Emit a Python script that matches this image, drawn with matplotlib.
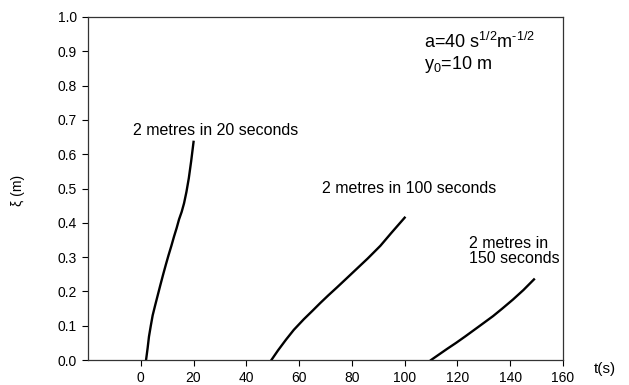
import matplotlib
matplotlib.use("Agg")
import matplotlib.pyplot as plt
import numpy as np

plt.rcParams['font.family'] = ['Liberation Sans', 'DejaVu Sans']
plt.rcParams['mathtext.fontset'] = 'custom'
plt.rcParams['mathtext.rm'] = 'Liberation Sans'
plt.rcParams['mathtext.it'] = 'Liberation Sans'

# Curve data (t in s, xi in m)
t1 = [2.0, 2.6, 3.1, 3.8, 4.5, 5.4, 6.3, 7.4, 8.5, 9.5, 10.5, 11.6, 12.6, 13.6, 14.5, 15.5, 16.4, 17.3, 18.2, 19.1, 20.0]
y1 = [0.0, 0.035, 0.068, 0.10, 0.13, 0.158, 0.185, 0.218, 0.25, 0.278, 0.305, 0.333, 0.36, 0.385, 0.41, 0.432, 0.457, 0.49, 0.53, 0.58, 0.636]
t2 = [49.5, 52.0, 55.0, 58.0, 61.8, 65.0, 68.0, 71.0, 74.4, 78.0, 82.0, 86.0, 90.8, 95.0, 100.0]
y2 = [0.0, 0.028, 0.059, 0.088, 0.119, 0.143, 0.166, 0.188, 0.212, 0.238, 0.267, 0.296, 0.333, 0.371, 0.415]
t3 = [110.0, 113.0, 116.0, 119.5, 123.0, 128.0, 133.5, 137.0, 141.0, 145.0, 149.0]
y3 = [0.0, 0.016, 0.032, 0.050, 0.069, 0.097, 0.128, 0.150, 0.176, 0.204, 0.235]

xticks = [0, 20, 40, 60, 80, 100, 120, 140, 160]
yticks = [0.0, 0.1, 0.2, 0.3, 0.4, 0.5, 0.6, 0.7, 0.8, 0.9, 1.0]

fig = plt.figure(figsize=(6.29, 3.85), dpi=100)
ax = fig.add_axes([88/629, 1-360/385, (563-88)/629, (360-17)/385])

for t, y in [(t1, y1), (t2, y2), (t3, y3)]:
    ax.plot(t, y, color='black', lw=1.7, solid_joinstyle='round')

ax.set_xlim(-20, 160)
ax.set_ylim(0, 1.0)
ax.set_xticks(xticks)
ax.set_yticks(yticks)
ax.set_xticklabels([str(v) for v in xticks])
ax.set_yticklabels([f"{v:.1f}" for v in yticks])
ax.tick_params(direction='out', length=4, width=0.8, labelsize=10, pad=4)
for s in ax.spines.values():
    s.set_linewidth(0.9)
    s.set_color('#333333')

fs = 11.5
ax.text(28.4, 0.67, "2 metres in 20 seconds", fontsize=fs, ha='center', va='center')
ax.text(101.7, 0.50, "2 metres in 100 seconds", fontsize=fs, ha='center', va='center')
ax.text(124.5, 0.318, "2 metres in\n150 seconds", fontsize=fs, ha='left', va='center', linespacing=1.05)
ax.text(107.5, 0.927, r"a=40 s$^{1/2}$m$^{‐1/2}$", fontsize=13, ha='left', va='center')
ax.text(107.5, 0.862, r"y$_0$=10 m", fontsize=13, ha='left', va='center')

fig.text(605/629, 1-369/385, "t(s)", fontsize=11, ha='center', va='center')
fig.text(18/629, 1-190/385, "ξ (m)", fontsize=10, rotation=90, ha='center', va='center')

fig.savefig("out.png", dpi=100)
